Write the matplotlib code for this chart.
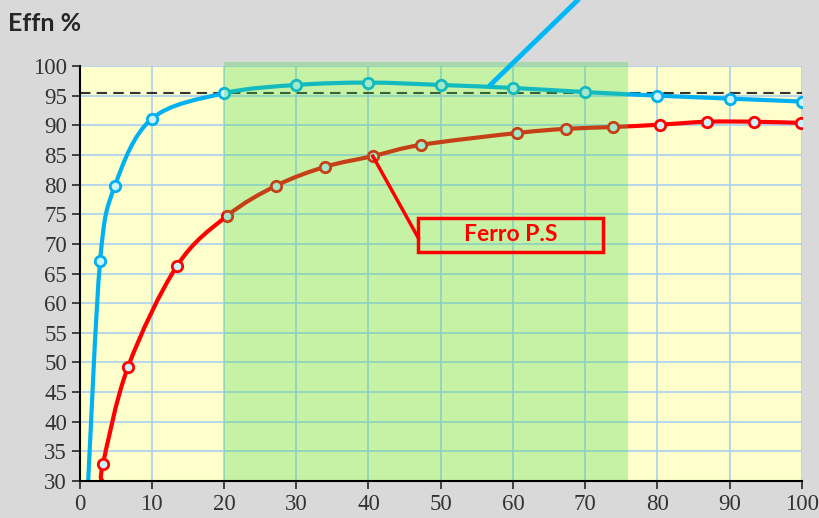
import numpy as np
import matplotlib.pyplot as plt
from matplotlib.path import Path
from matplotlib.patches import PathPatch, Rectangle

plt.rcParams['font.family'] = 'serif'
plt.rcParams['font.serif'] = ['Liberation Serif', 'Times New Roman', 'DejaVu Serif']

# blue curve (top)
x_blue = [1.2, 2.85, 4.9, 10, 20, 30, 40, 50, 60, 70, 80, 90, 100]
y_blue = [30, 67.1, 79.8, 91.1, 95.4, 96.8, 97.2, 96.8, 96.3, 95.6, 95.0, 94.5, 94.0]
# red curve (Ferro P.S)
x_red = [3.1, 3.25, 6.7, 13.5, 20.4, 27.2, 34.0, 40.6, 47.3, 60.6, 67.3, 73.8, 80.3, 86.9, 93.4, 99.9]
y_red = [30, 32.9, 49.2, 66.3, 74.7, 79.8, 83.0, 84.8, 86.7, 88.7, 89.4, 89.7, 90.1, 90.6, 90.6, 90.4]
ref_level = 95.4
band = (20, 75.9)

xticks = np.arange(0, 101, 10)
yticks = np.arange(30, 101, 5)


def smooth_path(x, y, t=0.5):
    # catmull-rom -> cubic bezier, drawn as one path
    p = np.column_stack([x, y]).astype(float)
    p = np.vstack([p[0], p, p[-1]])
    verts = [p[1]]
    codes = [Path.MOVETO]
    for i in range(1, len(p) - 2):
        c1 = p[i] + (p[i + 1] - p[i - 1]) * t / 3
        c2 = p[i + 1] - (p[i + 2] - p[i]) * t / 3
        verts += [c1, c2, p[i + 1]]
        codes += [Path.CURVE4] * 3
    return Path(verts, codes)


fig = plt.figure(figsize=(8.19, 5.18), dpi=100, facecolor='#d9d9d9')
ax = fig.add_axes([0.0971, 0.0714, 0.882, 0.8012])
ax.set_facecolor('#ffffcc')
ax.set_xlim(0, 100)
ax.set_ylim(30, 100)
ax.set_xticks(xticks)
ax.set_yticks(yticks)
ax.set_axisbelow(True)
ax.grid(True, color='#a9d1f2', lw=1.2)

for s in ['top', 'right']:
    ax.spines[s].set_visible(False)
for s in ['left', 'bottom']:
    ax.spines[s].set_color('black')
    ax.spines[s].set_linewidth(1.5)
    ax.spines[s].set_zorder(10)
ax.tick_params(direction='out', length=6, width=1.3, color='#333333',
               labelsize=16.5, labelcolor='#333333', pad=3)
for lab in ax.get_xticklabels() + ax.get_yticklabels():
    lab.set_family('Liberation Serif')

ax.axhline(ref_level, color='#333333', lw=1.5, ls=(0, (5, 3)), zorder=2)

for xs, ys, col in [(x_blue, y_blue, '#00b0f0'), (x_red, y_red, '#ff0000')]:
    ax.add_patch(PathPatch(smooth_path(xs, ys), fill=False, ec=col, lw=3, zorder=3,
                           capstyle='butt'))
    ax.plot(xs[1:], ys[1:], ls='none', marker='o', ms=7.5, mfc='#cdf3ff',
            mec=col, mew=2, zorder=4)

# green band over the lines
ax.axvspan(band[0], band[1], ymin=0, ymax=1.01, color='#41d44d', alpha=0.3,
           lw=0, zorder=5, clip_on=False)

# blue callout leader
ax.plot([56.7, 69.3], [96.6, 111.5], color='#00b8f8', lw=3.5, zorder=8,
        clip_on=False, solid_capstyle='butt')

# red callout
ax.plot([40.6, 46.9], [84.8, 71.0], color='#ff0000', lw=2.5, zorder=8)
ax.add_patch(Rectangle((46.85, 68.6), 25.65, 5.8, fill=False, ec='#ff0000',
                       lw=2.5, zorder=8))
ax.text(59.7, 71.5, 'Ferro P.S', color='#ff0000', fontsize=16.5, fontweight='bold',
        family='Lato', ha='center', va='center', zorder=9)

fig.text(0.01, 0.955, 'Effn %', fontsize=18, fontweight='bold', family='Lato',
         color='#262626', ha='left', va='center')

fig.savefig('out.png', dpi=100, facecolor=fig.get_facecolor())
